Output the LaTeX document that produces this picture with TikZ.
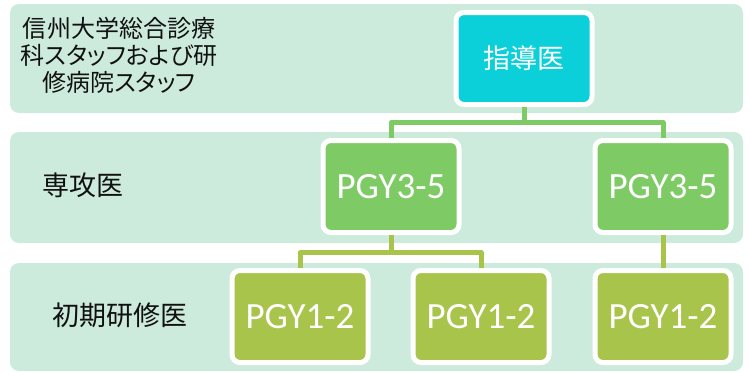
\documentclass[tikz,border=0pt]{standalone}
\usepackage{fontspec}
\setmainfont{Carlito}
\newfontfamily\jp[RawFeature={+palt}]{Noto Sans CJK JP}
\definecolor{bandfill}{HTML}{CDEBDC}
\definecolor{topcyan}{HTML}{0CD0D9}
\definecolor{midgreen}{HTML}{7ECB66}
\definecolor{lowgreen}{HTML}{A8C44B}
\definecolor{labeltext}{HTML}{111111}
\tikzset{
  band/.style={fill=bandfill, draw=none, rounded corners=9pt},
  box/.style={draw=white, line width=5pt, rounded corners=8pt,
    minimum width=136pt, minimum height=92pt, inner sep=0pt, text=white},
  jpbox/.style={box, font=\jp\fontsize{27}{30}\selectfont},
  pgybox/.style={box, font=\fontsize{37}{40}\selectfont},
  rowlabel/.style={text=labeltext, align=center, inner sep=0pt},
  upconn/.style={draw=midgreen, line width=5pt},
  lowconn/.style={draw=lowgreen, line width=5pt}
}
\begin{document}
\begin{tikzpicture}[x=1pt, y=-1pt]
\useasboundingbox (0,0) rectangle (749,372);
% bands
\fill[band] (10,4) rectangle (743,113);
\fill[band] (10,132) rectangle (743,243);
\fill[band] (10,263) rectangle (743,371);
% row labels
\node[rowlabel, font=\jp\fontsize{24}{27}\selectfont] (lab1) at (119,55)
  {信州大学総合診療\\科スタッフおよび研\\修病院スタッフ};
\node[rowlabel, font=\jp\fontsize{27}{30}\selectfont] (lab2) at (83,185) {専攻医};
\node[rowlabel, font=\jp\fontsize{27}{30}\selectfont] (lab3) at (120,315) {初期研修医};
% boxes
\node[jpbox, fill=topcyan] (top) at (524,58.5) {指導医};
\node[pgybox, fill=midgreen] (m1) at (391,186.5) {PGY3-5};
\node[pgybox, fill=midgreen] (m2) at (663,186.5) {PGY3-5};
\node[pgybox, fill=lowgreen] (b1) at (300,316.5) {PGY1-2};
\node[pgybox, fill=lowgreen] (b2) at (481,316.5) {PGY1-2};
\node[pgybox, fill=lowgreen] (b3) at (663,316.5) {PGY1-2};
% connectors
\coordinate (j1) at (524,122.5);
\coordinate (j2) at (391,252.5);
\draw[upconn] (top.south) -- (j1);
\draw[upconn, line join=round] (j1) -| (m1.north);
\draw[upconn, line join=round] (j1) -| (m2.north);
\draw[lowconn] (m1.south) -- (j2);
\draw[lowconn, line join=round] (j2) -| (b1.north);
\draw[lowconn, line join=round] (j2) -| (b2.north);
\draw[lowconn] (m2.south) -- (b3.north);
\end{tikzpicture}
\end{document}
